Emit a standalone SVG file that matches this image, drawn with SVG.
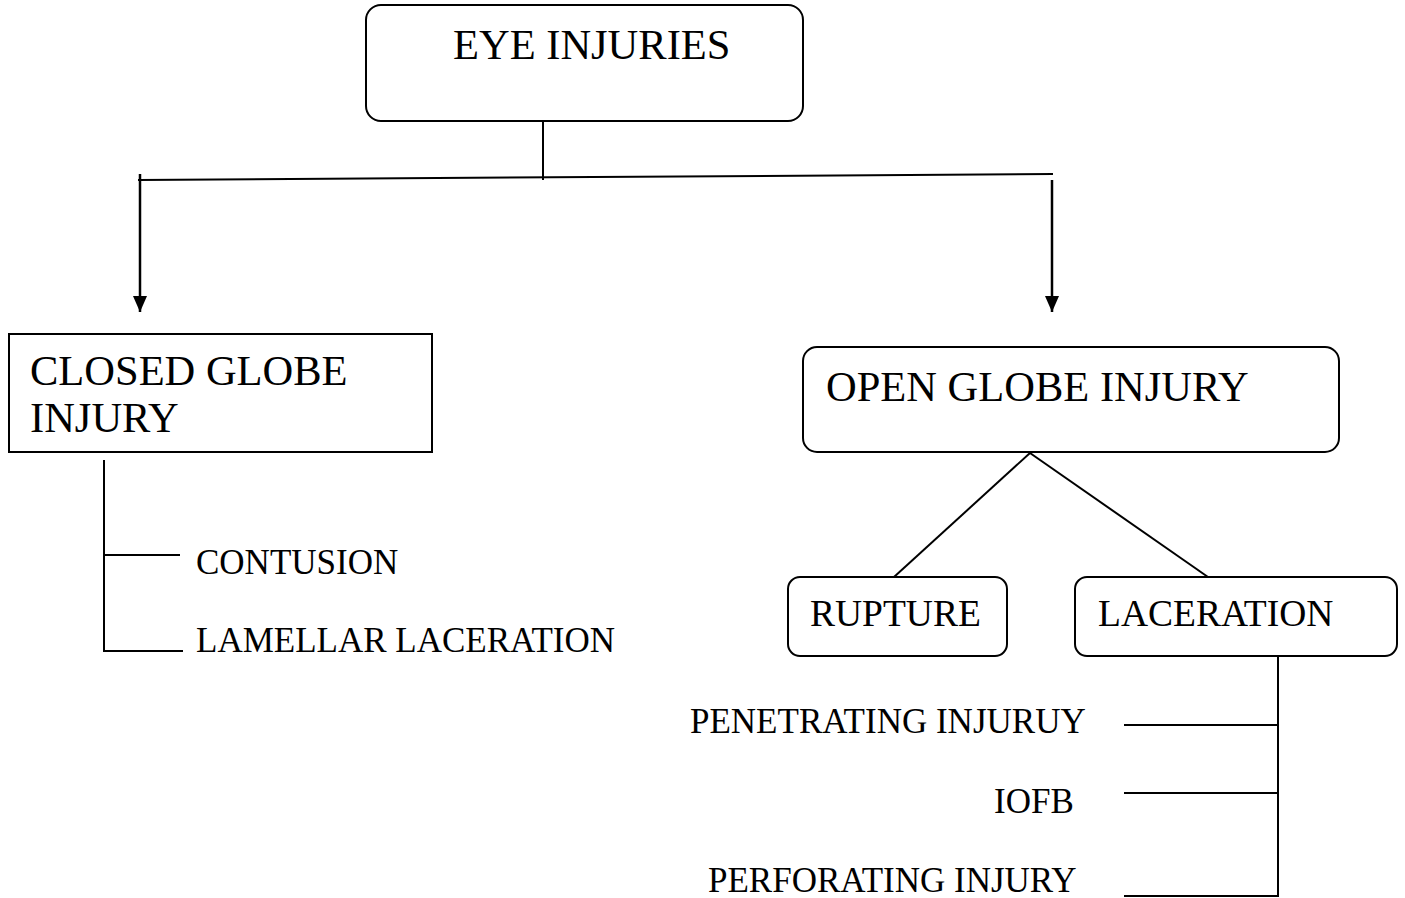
<svg xmlns="http://www.w3.org/2000/svg" width="1405" height="898" viewBox="0 0 1405 898">
<style>
.box{fill:#fff;stroke:#000;stroke-width:2}
.ln{stroke:#000;stroke-width:2;fill:none}
.arr{stroke-width:2.5}
.t{font-family:"Liberation Serif",serif;fill:#000}
.big{font-size:42.5px}
.mid{font-size:37.5px}
.sm{font-size:35px}
</style>
<defs>
<marker id="ah" markerWidth="16" markerHeight="14" refX="16" refY="7" orient="auto" markerUnits="userSpaceOnUse" viewBox="0 0 16 14">
<path d="M0,0 L16,7 L0,14 Z" fill="#000"/>
</marker>
</defs>
<g id="connectors">
<line class="ln" x1="543" y1="121" x2="543" y2="180"/>
<line class="ln" x1="138" y1="180" x2="1053" y2="174"/>
<line class="ln arr" x1="140" y1="174" x2="140" y2="312" marker-end="url(#ah)"/>
<line class="ln arr" x1="1052" y1="180" x2="1052" y2="312" marker-end="url(#ah)"/>
<polyline class="ln" points="104,460 104,651 183,651"/>
<line class="ln" x1="104" y1="555" x2="180" y2="555"/>
<line class="ln" x1="1030" y1="453" x2="894" y2="577"/>
<line class="ln" x1="1030" y1="453" x2="1208" y2="577"/>
<line class="ln" x1="1278" y1="656" x2="1278" y2="897"/>
<line class="ln" x1="1124" y1="725" x2="1278" y2="725"/>
<line class="ln" x1="1124" y1="793" x2="1278" y2="793"/>
<line class="ln" x1="1124" y1="896" x2="1278" y2="896"/>
</g>
<g id="eye-injuries">
<rect class="box" x="366" y="5" width="437" height="116" rx="15"/>
<text class="t big" x="453" y="59">EYE INJURIES</text>
</g>
<g id="closed-globe">
<rect class="box" x="9" y="334" width="423" height="118"/>
<text class="t big" x="30" y="385">CLOSED GLOBE</text>
<text class="t big" x="30" y="432">INJURY</text>
</g>
<g id="contusion"><text class="t sm" x="196" y="574">CONTUSION</text></g>
<g id="lamellar"><text class="t sm" x="196" y="652">LAMELLAR LACERATION</text></g>
<g id="open-globe">
<rect class="box" x="803" y="347" width="536" height="105" rx="14"/>
<text class="t big" x="826" y="401">OPEN GLOBE INJURY</text>
</g>
<g id="rupture">
<rect class="box" x="788" y="577" width="219" height="79" rx="12"/>
<text class="t mid" x="810" y="626">RUPTURE</text>
</g>
<g id="laceration">
<rect class="box" x="1075" y="577" width="322" height="79" rx="12"/>
<text class="t mid" x="1098" y="626">LACERATION</text>
</g>
<g id="penetrating"><text class="t sm" x="690" y="733">PENETRATING INJURUY</text></g>
<g id="iofb"><text class="t sm" x="994" y="813">IOFB</text></g>
<g id="perforating"><text class="t sm" x="708" y="892">PERFORATING INJURY</text></g>
</svg>
